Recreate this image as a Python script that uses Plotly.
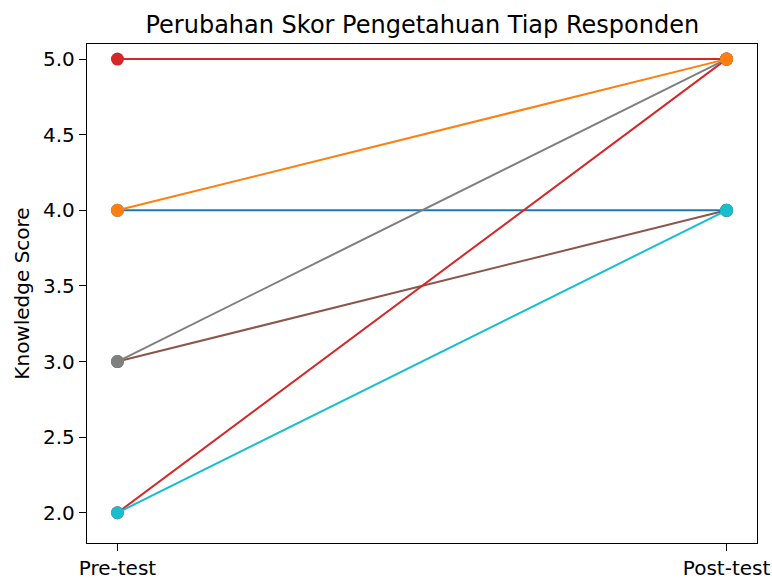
import plotly.graph_objects as go

stages = ["Pre-test", "Post-test"]
stage_pos = [0, 1]
pre_scores = [4, 5, 3, 2, 2, 3, 4]
post_scores = [4, 5, 4, 5, 4, 5, 5]
line_colors = ["#1f77b4", "#d62728", "#8c564b", "#d62728", "#17becf", "#7f7f7f", "#ff7f0e"]
y_ticks = [2.0, 2.5, 3.0, 3.5, 4.0, 4.5, 5.0]

fig = go.Figure()
for pre, post, c in zip(pre_scores, post_scores, line_colors):
    fig.add_trace(go.Scatter(
        x=stage_pos, y=[pre, post], mode="lines+markers",
        line=dict(color=c, width=2), marker=dict(color=c, size=13),
        showlegend=False, hoverinfo="skip"))

font = "DejaVu Sans"
fig.update_layout(
    width=772, height=578,
    margin=dict(l=87, r=15, t=44, b=35),
    paper_bgcolor="white", plot_bgcolor="white",
    font=dict(family=font, size=20, color="black"),
    title=dict(text="Perubahan Skor Pengetahuan Tiap Responden", x=0.547, xanchor="center",
               y=0.958, yanchor="middle", font=dict(family=font, size=24, color="black")),
)
fig.update_xaxes(range=[-0.05, 1.05], tickvals=stage_pos, ticktext=stages, automargin=False,
                 showline=True, linecolor="black", linewidth=1.3, mirror=True,
                 ticks="outside", ticklen=7, tickcolor="black", showgrid=False, zeroline=False,
                 tickfont=dict(size=20))
fig.update_yaxes(range=[1.8, 5.1], tickvals=y_ticks, tickformat=".1f", automargin=False,
                 showline=True, linecolor="black", linewidth=1.3, mirror=True,
                 ticks="outside", ticklen=7, tickcolor="black", showgrid=False, zeroline=False,
                 title=dict(text="Knowledge Score", font=dict(size=20), standoff=8),
                 tickfont=dict(size=20))
fig.write_html("out.html", config={"displayModeBar": False},
               post_script="document.body.style.margin='0px';document.body.style.overflow='hidden';")
